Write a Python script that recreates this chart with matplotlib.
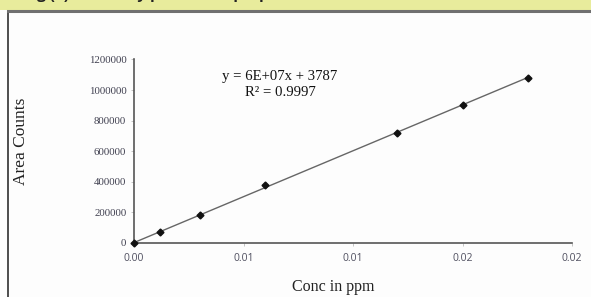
import numpy as np
import matplotlib.pyplot as plt
from matplotlib.patches import Rectangle

# calibration data
conc = [0.0, 0.0012, 0.003, 0.006, 0.012, 0.015, 0.018]
area = [0, 70000, 180000, 378000, 720000, 905000, 1080000]
xticks = [0.0, 0.005, 0.01, 0.015, 0.02]
xtick_labels = ["0.00", "0.01", "0.01", "0.02", "0.02"]
yticks = [0, 200000, 400000, 600000, 800000, 1000000, 1200000]
eq_text = "y = 6E+07x + 3787\nR² = 0.9997"

fig = plt.figure(figsize=(5.91, 2.97), dpi=100)
fig.patch.set_facecolor("#fdfdfd")

# yellow caption band and the box of the figure
fig.add_artist(Rectangle((0, 1 - 10 / 297), 1, 10 / 297, transform=fig.transFigure,
                         facecolor="#e8ec9c", edgecolor="none", zorder=0))
fig.text(0.04, 1 + 0.5 / 297, "Fig (2): Linearity plot of the proposed method",
         fontsize=11, fontweight="bold", family="Open Sans", color="#222222",
         va="baseline", ha="left")
fig.add_artist(plt.Line2D([7.5 / 591, 7.5 / 591], [-0.1, 1 - 10.5 / 297],
                          transform=fig.transFigure, color="#404040", lw=1.3))
fig.add_artist(plt.Line2D([7.5 / 591, 1.1], [1 - 10.5 / 297, 1 - 10.5 / 297],
                          transform=fig.transFigure, color="#707070", lw=2.2))

ax = fig.add_axes([134 / 591, 1 - 243 / 297, 438 / 591, (243 - 59.5) / 297])
ax.set_facecolor("none")

# trend line
m, b = np.polyfit(conc, area, 1)
xs = np.array([0, max(conc)])
ax.plot(xs, m * xs + b, color="#666666", lw=1.0, zorder=2)
ax.plot(conc, area, linestyle="none", marker="D", markersize=3.5,
        color="#111111", zorder=3, clip_on=False)

ax.set_xlim(0, 0.02)
ax.set_ylim(0, 1200000)
ax.set_xticks(xticks)
ax.set_xticklabels(xtick_labels, family="Open Sans", fontsize=7.5, color="#505060")
ax.set_yticks(yticks)
ax.set_yticklabels([str(v) for v in yticks], family="Liberation Serif",
                   fontsize=7.8, color="#404050")
ax.tick_params(axis="both", length=2.5, width=0.6, color="#bbbbbb", pad=3)
ax.tick_params(axis="x", pad=5)

for s in ["top", "right"]:
    ax.spines[s].set_visible(False)
for s in ["left", "bottom"]:
    ax.spines[s].set_color("#555555")
    ax.spines[s].set_linewidth(1.2)

# equation placed in figure pixels
fig.text(280 / 591, 1 - 84.5 / 297, eq_text, ha="center", va="center",
         family="Liberation Serif", fontsize=10.6, linespacing=1.3, color="#111111")

fig.text(21 / 591, 1 - 141 / 297, "Area Counts", rotation=90, ha="center", va="center",
         family="Liberation Serif", fontsize=12.5, color="#222222")
fig.text(333 / 591, 1 - 287 / 297, "Conc in ppm", ha="center", va="center",
         family="Liberation Serif", fontsize=11.5, color="#222222")

fig.savefig("out.png", dpi=100)
